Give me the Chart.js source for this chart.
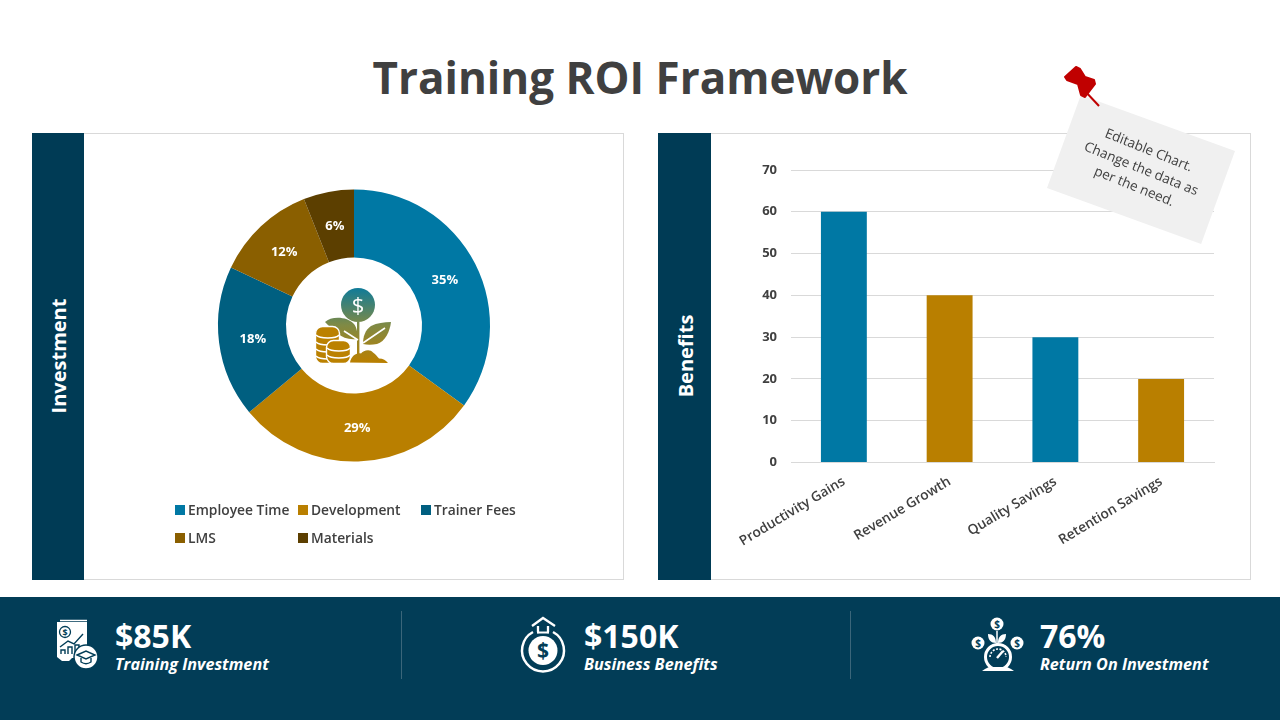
<!DOCTYPE html>
<html>
<head>
<meta charset="utf-8">
<script src="https://cdn.jsdelivr.net/npm/chart.js@4"></script>
<style>
html,body{margin:0;padding:0;background:#fff;width:1280px;height:720px;overflow:hidden;font-family:"Open Sans",sans-serif;}
.abs{position:absolute;}
#title{left:0;top:44px;width:1280px;text-align:center;font-size:44px;font-weight:700;color:#404040;line-height:66px;}
.panel{border:1px solid #d9d9d9;box-sizing:border-box;background:#fff;}
.side{background:#003b55;}
.sideLabel{color:#fff;font-size:20px;font-weight:700;transform:translate(-50%,-50%) rotate(-90deg);white-space:nowrap;}
#footer{left:0;top:597px;width:1280px;height:123px;background:#023d57;}
.div{width:1px;top:611px;height:68px;background:#3b667a;}
.kpi{color:#fff;font-size:32px;font-weight:700;line-height:40px;white-space:nowrap;}
.kpiL{color:#fff;font-size:16.2px;font-weight:700;font-style:italic;line-height:22px;white-space:nowrap;}
.leg{font-size:13.8px;font-weight:600;color:#404040;line-height:18px;white-space:nowrap;}
.sw{width:10px;height:10px;}
#note{left:1059px;top:120px;width:164px;height:99px;background:#f0f0f0;transform:rotate(20deg);}
#noteText{left:1059px;top:120px;width:164px;height:99px;transform:rotate(22deg);color:#404040;font-size:13.6px;line-height:19.5px;text-align:center;box-sizing:border-box;padding-top:18px;}
</style>
</head>
<body>
<div id="title" class="abs">Training ROI Framework</div>

<div class="abs panel" style="left:32px;top:133px;width:592px;height:447px;"></div>
<div class="abs side" style="left:32px;top:133px;width:52px;height:447px;"></div>
<div class="abs sideLabel" style="left:58px;top:356px;">Investment</div>
<div class="abs" style="left:85px;top:134px;width:538px;height:445px;"><canvas id="pie" width="538" height="445"></canvas></div>

<div class="abs panel" style="left:658px;top:133px;width:593px;height:447px;"></div>
<div class="abs side" style="left:658px;top:133px;width:53px;height:447px;"></div>
<div class="abs sideLabel" style="left:685px;top:356px;">Benefits</div>
<div class="abs" style="left:711px;top:134px;width:539px;height:445px;"><canvas id="bar" width="539" height="445"></canvas></div>

<div id="legend"></div>

<!-- centre icon -->
<svg class="abs" style="left:300px;top:280px" width="110" height="95" viewBox="300 280 110 95">
<defs>
<linearGradient id="g" gradientUnits="userSpaceOnUse" x1="0" y1="288" x2="0" y2="362">
<stop offset="0" stop-color="#0f7b99"/><stop offset=".5" stop-color="#7f8a45"/><stop offset="1" stop-color="#b97f00"/>
</linearGradient>
</defs>
<g fill="url(#g)">
<circle cx="358" cy="305" r="17"/>
<rect x="357" y="322" width="2.4" height="36"/>
<path d="M325 322c6-6 22-6 29 2 3 4 4 10 3 15-8 1-14-1-20-6-5-4-9-8-12-11z"/>
<path d="M391 322c-1 9-6 20-14 22-5 1-10 1-14 0 0-7 2-14 8-18 6-3 13-4 20-4z"/>
<path d="M350 362.500c1-6 6-10 11-9 2-3 9-5 12-1 3 2 4 4 6 6 4 0 7 2 9 4.500z"/>
</g>
<g stroke="#fff" stroke-width="1.6" fill="none"><path d="M344 331l14 9M385 328l-22 15"/></g>
<text x="358" y="312.500" text-anchor="middle" font-family="Open Sans" font-size="22" fill="#fff">$</text>
<g fill="#bb8100" stroke="#fff" stroke-width="1.4">
<rect x="315.500" y="326.500" width="24" height="37" rx="7"/>
<path d="M316 335c4 4 20 4 23 0M316 342c4 4 20 4 23 0M316 349c4 4 20 4 23 0M316 356c4 4 20 4 23 0" fill="none"/>
<rect x="326.500" y="340.500" width="24" height="23" rx="7"/>
<path d="M327 348c4 4 20 4 23 0M327 355c4 4 20 4 23 0" fill="none"/>
</g>
</svg>

<div id="note" class="abs"></div>
<div id="noteText" class="abs">Editable Chart.<br>Change the data as<br>per the need.</div>
<svg class="abs" style="left:1055px;top:60px" width="60" height="55" viewBox="1055 60 60 55">
<path d="M1084 90l15 16" stroke="#c00000" stroke-width="2"/>
<path d="M1076 67l4 2 5 8 9 3 1 4-10 13-4-2-3-11-11-4-2-3z" fill="#c00000" stroke="#c00000" stroke-width="2" stroke-linejoin="round"/>
</svg>

<div id="footer" class="abs"></div>
<div class="abs div" style="left:401px"></div>
<div class="abs div" style="left:850px"></div>
<div id="kpis"></div>

<!-- footer icons -->
<svg class="abs" style="left:50px;top:615px" width="50" height="58" viewBox="50 615 50 58" fill="none" stroke="#fff">
<path d="M57 622h30v36H72l-3 3h-7l-5-4z" fill="#fff" stroke="none"/>
<path d="M60 620.500h27" stroke-width="1.5"/>
<circle cx="65" cy="632" r="5.500" stroke="#023d57" stroke-width="1.3"/>
<text x="65" y="635.500" font-size="9" font-weight="700" text-anchor="middle" fill="#023d57" stroke="none" font-family="Open Sans">$</text>
<path d="M60 647l8-6 6 3 9-10" stroke="#023d57" stroke-width="1.4"/>
<path d="M61 654v-4h4v4M68 654v-7h4v7M75 654v-9h4v9" stroke="#023d57" stroke-width="1.4"/>
<circle cx="86" cy="657" r="12" fill="#fff" stroke="#023d57" stroke-width="1.5"/>
<path d="M77 655l9-4 9 4-9 4zM81 658v4c3 2 7 2 10 0v-4" stroke="#023d57" stroke-width="1.4"/>
</svg>
<svg class="abs" style="left:515px;top:612px" width="56" height="64" viewBox="515 612 56 64" fill="none" stroke="#fff">
<path d="M533 632A21 21 0 1 0 553 632" stroke-width="2.500"/>
<circle cx="543" cy="650.500" r="14.500" fill="#fff" stroke="none"/>
<text x="543" y="658" font-size="21" font-weight="700" text-anchor="middle" fill="#023d57" stroke="none" font-family="Open Sans">$</text>
<path d="M532 626l11-8 12 8M538 626v6h-1M548 626v6h1" stroke-width="2.300"/>
<path d="M537 632.500h12" stroke-width="2"/>
</svg>
<svg class="abs" style="left:968px;top:614px" width="60" height="60" viewBox="968 614 60 60" fill="none" stroke="#fff">
<g fill="#fff" stroke="none"><circle cx="997" cy="624" r="6.500"/><circle cx="978" cy="643" r="6.500"/><circle cx="1017" cy="643" r="6.500"/>
<path d="M988 634c5 0 8 3 8 9-5 0-8-3-8-9zM1006 634c-5 0-8 3-8 9 5 0 8-3 8-9z"/></g>
<g font-size="10" font-weight="700" text-anchor="middle" fill="#023d57" stroke="none" font-family="Open Sans"><text x="997" y="628">$</text><text x="978" y="647">$</text><text x="1017" y="647">$</text></g>
<path d="M997 631v13" stroke-width="1.500"/>
<circle cx="998" cy="657" r="12.500" stroke-width="3"/>
<path d="M985 669l-3 2h32l-3-2-4-2h-18z" fill="#fff" stroke="none"/>
<path d="M997 658l6-7" stroke-width="2.400"/><path d="M990 657a8 8 0 0 1 16 0" stroke-width="1.600" stroke-dasharray="2 1.500"/>
</svg>

<script>
const pieCategories = ["Employee Time","Development","Trainer Fees","LMS","Materials"];
const pieValues = [35,29,18,12,6];
const pieColors = ["#0078a4","#b97f00","#005f80","#8a5f00","#5c3f00"];
const barCategories = ["Productivity Gains","Revenue Growth","Quality Savings","Retention Savings"];
const barValues = [60,40,30,20];
const barColors = ["#0078a4","#b97f00","#0078a4","#b97f00"];
const yTicks = [0,10,20,30,40,50,60,70];
const kpiValues = ["$85K","$150K","76%"];
const kpiLabels = ["Training Investment","Business Benefits","Return On Investment"];
const kpiX = [115,584,1040];
const legendPos = [[175,188,503],[298,311,503],[421,434,503],[175,188,531],[298,311,531]];

Chart.defaults.font.family = '"Open Sans", sans-serif';
Chart.defaults.animation = false;

kpiValues.forEach((v,i)=>{
  document.getElementById('kpis').insertAdjacentHTML('beforeend',
    `<div class="abs kpi" style="left:${kpiX[i]}px;top:616px">${v}</div><div class="abs kpiL" style="left:${kpiX[i]}px;top:653px">${kpiLabels[i]}</div>`);
});
pieCategories.forEach((c,i)=>{
  const p = legendPos[i];
  document.getElementById('legend').insertAdjacentHTML('beforeend',
    `<div class="abs sw" style="left:${p[0]}px;top:${p[2]+2}px;background:${pieColors[i]}"></div><div class="abs leg" style="left:${p[1]}px;top:${p[2]-2}px">${c}</div>`);
});

const sliceLabels = {
  id:'sliceLabels',
  afterDatasetsDraw(chart){
    const ctx = chart.ctx, meta = chart.getDatasetMeta(0);
    ctx.save();
    ctx.fillStyle='#fff';ctx.font='700 13px "Open Sans"';ctx.textAlign='center';ctx.textBaseline='middle';
    meta.data.forEach((arc,i)=>{
      const p = arc.tooltipPosition();
      ctx.fillText(pieValues[i]+'%',p.x,p.y+1);
    });
    ctx.restore();
  }
};

new Chart(document.getElementById('pie'),{
  type:'doughnut',
  data:{labels:pieCategories,datasets:[{data:pieValues,backgroundColor:pieColors,borderWidth:0}]},
  options:{
    responsive:false,
    cutout:'50%',
    layout:{padding:{left:0,right:0,top:55.5,bottom:117.5}},
    plugins:{legend:{display:false},tooltip:{enabled:false}}
  },
  plugins:[sliceLabels]
});

new Chart(document.getElementById('bar'),{
  type:'bar',
  data:{labels:barCategories,datasets:[{data:barValues,backgroundColor:barColors,barPercentage:0.434,categoryPercentage:1}]},
  options:{
    responsive:false,
    layout:{padding:{top:36,right:36,left:0,bottom:0}},
    plugins:{legend:{display:false},tooltip:{enabled:false}},
    scales:{
      x:{
        grid:{display:false,drawTicks:false},
        border:{color:'#d9d9d9'},
        ticks:{color:'#404040',font:{size:13.7,weight:'600'},maxRotation:31,minRotation:31,padding:11,autoSkip:false},
        afterFit(s){s.height=116.5;}
      },
      y:{
        min:0,max:70,
        afterBuildTicks(s){s.ticks=yTicks.map(v=>({value:v}));},
        grid:{color:'#d9d9d9',drawTicks:false},
        border:{display:false},
        ticks:{color:'#404040',font:{size:13,weight:'700'},padding:14},
        afterFit(s){s.width=80;}
      }
    }
  }
});
</script>
</body>
</html>
